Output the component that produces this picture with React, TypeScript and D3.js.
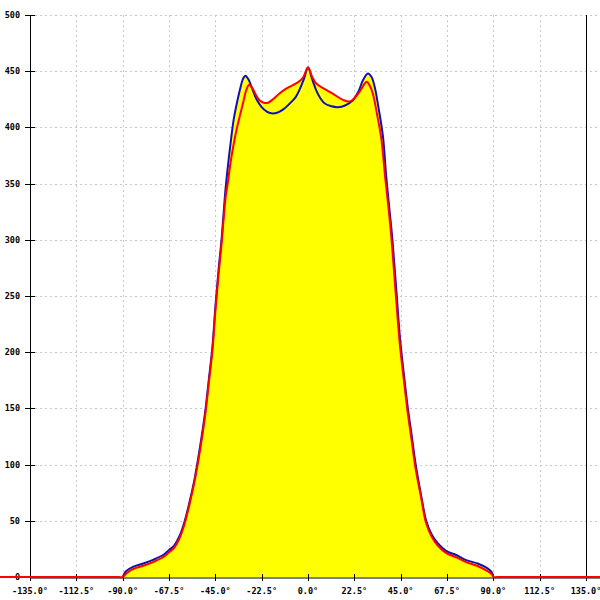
import React from "react";
import * as d3 from "d3";

const xTicks = [-135, -112.5, -90, -67.5, -45, -22.5, 0, 22.5, 45, 67.5, 90, 112.5, 135];
const yTicks = [0, 50, 100, 150, 200, 250, 300, 350, 400, 450, 500];

const blueAngles = [-90, -88.5, -85, -80, -75, -70, -67.5, -65, -62.5, -60, -57.5, -55, -52.5, -50, -48.2, -46.4, -45, -43.5, -42, -40, -38.5, -37.2, -36, -34.5, -33, -31.6, -30.4, -29, -27, -25, -22.5, -20, -17.8, -15, -12, -9, -6, -4, -2, 0, 2, 4, 6, 8, 11, 14.6, 18, 21.8, 24.5, 26.7, 29.1, 30.8, 32.4, 34.2, 36.4, 38, 39.5, 41, 42.9, 44.8, 46.9, 48.5, 50.5, 52.3, 55, 57.4, 60, 63, 67.2, 72, 76.8, 82.4, 87.2, 89.3, 90];
const blueValues = [0, 5, 9, 12, 15.5, 20, 24, 28, 36, 49, 67, 88, 115, 146, 175, 205, 240, 272, 300, 346, 372, 392, 408, 422, 434, 443, 446, 443, 434, 425, 418, 414, 412.5, 413, 416, 421, 427, 434, 443, 453, 443, 433, 426, 421.5, 419, 418, 419.5, 424, 432, 442, 448, 445, 436, 418, 392, 356, 328, 300, 255, 210, 175, 150, 124, 100, 72, 50, 38, 30, 23, 19.6, 15, 12, 7.7, 4, 0];

const redAngles = [-150, -92, -90, -88, -85, -80, -75, -70, -67.5, -65, -62.5, -60, -57.5, -55, -52.5, -50, -48.2, -46.4, -45, -43.5, -42, -40, -39, -37.5, -36, -34.7, -33, -31.5, -30, -28.6, -27, -25, -23.4, -21.5, -19.4, -17, -14, -11, -8, -5, -2.5, 0, 2, 4, 7.3, 12, 17, 20.2, 23, 25.5, 27.5, 28.5, 30, 31.5, 33.5, 35.6, 37.5, 39, 40.5, 42.6, 44.6, 46.7, 48.3, 50.3, 52.1, 55, 57.2, 60, 63, 67, 72, 77, 82, 87, 89.5, 90, 92, 150];
const redValues = [0, 0, 0, 3.5, 7, 10, 13.5, 18, 22, 26, 34, 47, 65, 86, 112, 143, 172, 202, 236, 268, 296, 338, 350, 370, 386, 398, 411, 422, 433, 438, 435, 428, 424, 422, 422, 425, 430, 434, 437, 440, 444, 453.5, 445, 439, 435, 430, 424.5, 423, 427, 433, 439, 440.6, 437, 430, 412, 390, 355, 330, 302, 252, 207, 173, 148, 122, 98, 70, 49, 36, 28, 21.5, 17.5, 13, 10, 5.5, 2, 0, 0, 0];

const W = 600;
const H = 600;
const left = 30;
const right = 586;
const top = 15;
const bottom = 577;

export default function App() {
  const x = d3.scaleLinear().domain([-135, 135]).range([left, right]);
  const y = d3.scaleLinear().domain([0, 500]).range([bottom, top]);

  const blue = blueAngles.map((a, i) => [a, blueValues[i]] as [number, number]);
  const red = redAngles.map((a, i) => [a, redValues[i]] as [number, number]);

  const curve = d3.curveCatmullRom.alpha(0.5);
  const line = d3
    .line<[number, number]>()
    .x((d) => x(d[0]))
    .y((d) => y(d[1]))
    .curve(curve);
  const area = d3
    .area<[number, number]>()
    .x((d) => x(d[0]))
    .y0(y(0))
    .y1((d) => y(d[1]))
    .curve(curve);

  const font = "'DejaVu Sans Mono', monospace";

  return (
    <svg
      width={W}
      height={H}
      style={{ position: "absolute", left: 0, top: 0, background: "#fff" }}
    >
      {yTicks
        .filter((t) => t > 0)
        .map((t) => (
          <line
            key={"gy" + t}
            x1={left}
            x2={W}
            y1={Math.round(y(t)) + 0.5}
            y2={Math.round(y(t)) + 0.5}
            stroke="#c8c8c8"
            strokeDasharray="2,3"
          />
        ))}
      {xTicks
        .filter((t) => t !== -135 && t !== 135)
        .map((t) => (
          <line
            key={"gx" + t}
            x1={Math.round(x(t)) + 0.5}
            x2={Math.round(x(t)) + 0.5}
            y1={top}
            y2={bottom}
            stroke="#c8c8c8"
            strokeDasharray="2,3"
          />
        ))}

      <path d={area(blue) || ""} fill="#ffff00" />
      <path d={area(red.filter((d) => Math.abs(d[0]) <= 90)) || ""} fill="#ffff00" />

      <line x1={left + 0.5} x2={left + 0.5} y1={top} y2={bottom + 1} stroke="#000" />
      <line x1={right + 0.5} x2={right + 0.5} y1={top} y2={bottom + 1} stroke="#000" />
      <line x1={left} x2={W} y1={bottom + 1} y2={bottom + 1} stroke="#000" />
      {yTicks.map((t) => (
        <g key={"yt" + t}>
          <line
            x1={left - 5}
            x2={left + 5}
            y1={Math.round(y(t)) + 0.5}
            y2={Math.round(y(t)) + 0.5}
            stroke="#000"
          />
          <text
            x={left - 10}
            y={y(t)}
            dy="0.35em"
            textAnchor="end"
            fontFamily={font}
            fontSize={8.5}
            fontWeight="bold"
            fill="#000"
          >
            {t}
          </text>
        </g>
      ))}
      {xTicks.map((t) => (
        <g key={"xt" + t}>
          <line
            x1={Math.round(x(t)) + 0.5}
            x2={Math.round(x(t)) + 0.5}
            y1={bottom - 3}
            y2={bottom + 4}
            stroke="#000"
          />
          <text
            x={x(t)}
            y={bottom + 17}
            textAnchor="middle"
            fontFamily={font}
            fontSize={8.5}
            fontWeight="bold"
            fill="#000"
          >
            {t.toFixed(1) + "°"}
          </text>
        </g>
      ))}

      <path d={line(blue) || ""} fill="none" stroke="#1010b8" strokeWidth={2} />
      <path d={line(red) || ""} fill="none" stroke="#ff0000" strokeWidth={2} />
    </svg>
  );
}
